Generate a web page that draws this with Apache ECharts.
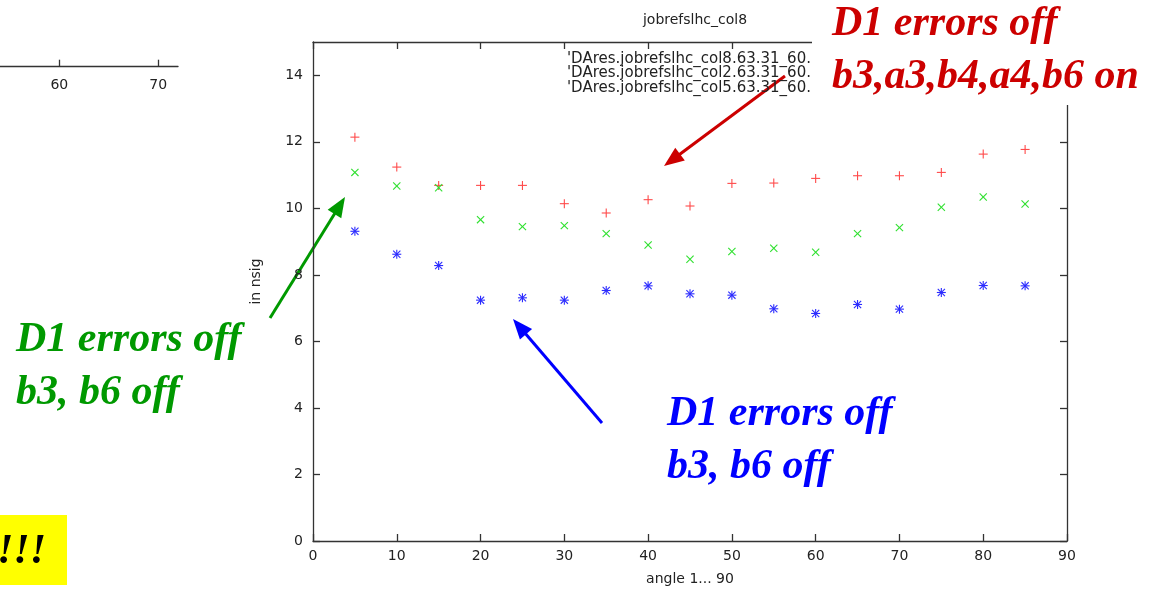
<!DOCTYPE html>
<html>
<head>
<meta charset="utf-8">
<title>jobrefslhc_col8</title>
<script src="https://cdn.jsdelivr.net/npm/echarts@6/dist/echarts.min.js"></script>
<style>
  html, body { margin: 0; padding: 0; background: #fff; }
  #chart { width: 1161px; height: 593px; }
</style>
</head>
<body>
<div id="chart"></div>
<script>
// Scan angles (degrees) and minimum dynamic aperture (sigma) per run
const angles = [5, 10, 15, 20, 25, 30, 35, 40, 45, 50, 55, 60, 65, 70, 75, 80, 85];
const col8 = [12.14, 11.24, 10.69, 10.69, 10.69, 10.14, 9.86, 10.26, 10.07, 10.75, 10.76, 10.90, 10.98, 10.98, 11.08, 11.63, 11.77];
const col2 = [11.08, 10.67, 10.62, 9.66, 9.45, 9.48, 9.24, 8.90, 8.47, 8.70, 8.80, 8.68, 9.24, 9.42, 10.03, 10.34, 10.13];
const col5 = [9.31, 8.62, 8.28, 7.24, 7.31, 7.24, 7.53, 7.67, 7.43, 7.39, 6.98, 6.84, 7.11, 6.97, 7.47, 7.68, 7.67];

const seriesNames = [
  "'DAres.jobrefslhc_col8.63.31_60.",
  "'DAres.jobrefslhc_col2.63.31_60.",
  "'DAres.jobrefslhc_col5.63.31_60."
];
const plotTitle = 'jobrefslhc_col8';
const xName = 'angle 1... 90';
const yName = 'in nsig';

// Partial axis of the neighbouring plot (top-left)
const sideTicks = [60, 70];

// Annotation texts
const redNote = ['D1 errors off', 'b3,a3,b4,a4,b6 on'];
const greenNote = ['D1 errors off', 'b3, b6 off'];
const blueNote = ['D1 errors off', 'b3, b6 off'];
const bangText = '!!!';

const AXIS = '#333';
const TXT = '#222';
const SANS = 'DejaVu Sans';
const SERIF = 'Liberation Serif';

// gnuplot-style point glyphs: +, x and * built from short strokes
function glyph(kind, r) {
  const d = r * 0.8;
  const plus = [[-r, 0, r, 0], [0, -r, 0, r]];
  const cross = [[-d, -d, d, d], [-d, d, d, -d]];
  if (kind === 'plus') return plus;
  if (kind === 'cross') return cross;
  return plus.concat(cross);
}

function pointSeries(name, values, kind, color) {
  return {
    type: 'custom',
    name: name,
    coordinateSystem: 'cartesian2d',
    xAxisIndex: 0,
    yAxisIndex: 0,
    clip: false,
    data: angles.map((a, i) => [a, values[i]]),
    renderItem: function (params, api) {
      const p = api.coord([api.value(0), api.value(1)]);
      const segs = glyph(kind, 4.5);
      return {
        type: 'group',
        children: segs.map(s => ({
          type: 'line',
          shape: { x1: p[0] + s[0], y1: p[1] + s[1], x2: p[0] + s[2], y2: p[1] + s[3] },
          style: { stroke: color, lineWidth: 1.1 }
        }))
      };
    }
  };
}

function arrow(x1, y1, x2, y2, color) {
  const dx = x2 - x1, dy = y2 - y1;
  const len = Math.sqrt(dx * dx + dy * dy);
  const ux = dx / len, uy = dy / len;
  const hl = 20, hw = 8;
  const bx = x2 - ux * hl, by = y2 - uy * hl;
  return {
    type: 'group',
    z: 60,
    children: [
      { type: 'line', shape: { x1: x1, y1: y1, x2: bx + ux * 2, y2: by + uy * 2 },
        style: { stroke: color, lineWidth: 3 } },
      { type: 'polygon', shape: { points: [[x2, y2], [bx - uy * hw, by + ux * hw], [bx + uy * hw, by - ux * hw]] },
        style: { fill: color } }
    ]
  };
}

function note(lines, x, y0, color) {
  return lines.map((t, i) => ({
    type: 'text',
    z: 60,
    x: x,
    y: y0 + i * 53,
    style: {
      text: t, fill: color, fontFamily: SERIF, fontSize: 42,
      fontWeight: 'bold', fontStyle: 'italic', align: 'left', verticalAlign: 'middle'
    }
  }));
}

const chart = echarts.init(document.getElementById('chart'), null, { renderer: 'canvas' });

const axisLineStyle = { color: AXIS, width: 1.3 };
const frameLine = { show: true, onZero: false, lineStyle: axisLineStyle };
const innerTick = { show: true, inside: true, length: 7, lineStyle: axisLineStyle };

chart.setOption({
  backgroundColor: '#fff',
  animation: false,
  title: {
    text: plotTitle,
    left: 690,
    top: 8,
    textAlign: 'center',
    textStyle: { fontFamily: SANS, fontSize: 14, fontWeight: 'normal', color: TXT }
  },
  grid: [
    { left: 313, right: 94, top: 42, bottom: 52 },
    { left: 0, width: 178, top: 0, height: 66.7 }
  ],
  xAxis: [
    {
      type: 'value', gridIndex: 0, position: 'bottom', min: 0, max: 90, interval: 10,
      name: xName, nameLocation: 'middle', nameGap: 31,
      nameTextStyle: { fontFamily: SANS, fontSize: 14, color: TXT },
      axisLine: frameLine,
      axisTick: innerTick,
      axisLabel: { margin: 8, fontFamily: SANS, fontSize: 14, color: TXT },
      splitLine: { show: false }
    },
    {
      type: 'value', gridIndex: 0, position: 'top', min: 0, max: 90, interval: 10,
      axisLine: frameLine,
      axisTick: innerTick,
      axisLabel: { show: false },
      splitLine: { show: false }
    },
    {
      type: 'value', gridIndex: 1, position: 'bottom', min: 54, max: 72,
      axisLine: frameLine,
      axisTick: Object.assign({ customValues: sideTicks }, innerTick),
      axisLabel: {
        customValues: sideTicks,
        margin: 12, fontFamily: SANS, fontSize: 14, color: TXT
      },
      splitLine: { show: false }
    }
  ],
  yAxis: [
    {
      type: 'value', gridIndex: 0, position: 'left', min: 0, max: 15, interval: 2,
      name: yName, nameLocation: 'middle', nameGap: 50, nameRotate: 90,
      nameTextStyle: { fontFamily: SANS, fontSize: 14, color: TXT, padding: [0, 0, 0, 20] },
      axisLine: frameLine,
      axisTick: innerTick,
      axisLabel: { margin: 10, fontFamily: SANS, fontSize: 14, color: TXT, showMaxLabel: false },
      splitLine: { show: false }
    },
    {
      type: 'value', gridIndex: 0, position: 'right', min: 0, max: 15, interval: 2,
      axisLine: frameLine,
      axisTick: innerTick,
      axisLabel: { show: false },
      splitLine: { show: false }
    },
    {
      type: 'value', gridIndex: 1, min: 0, max: 1, show: false
    }
  ],
  series: [
    pointSeries(seriesNames[0], col8, 'plus', '#ff4a4a'),
    pointSeries(seriesNames[1], col2, 'cross', '#2fe02f'),
    pointSeries(seriesNames[2], col5, 'star', '#2b2bff')
  ],
  graphic: [].concat(
    // key entries
    seriesNames.map((n, i) => ({
      type: 'text', z: 40, x: 567, y: 59 + i * 14.5,
      style: { text: n, fill: TXT, fontFamily: SANS, fontSize: 15, align: 'left', verticalAlign: 'middle' }
    })),
    // white panel behind the red note
    [{ type: 'rect', z: 50, shape: { x: 812, y: 0, width: 349, height: 105 }, style: { fill: '#fff' } }],
    note(redNote, 832, 24.5, '#cc0000'),
    note(greenNote, 16, 340.5, '#009900'),
    note(blueNote, 667, 414.5, '#0000ff'),
    [
      arrow(785, 76, 664, 166, '#cc0000'),
      arrow(270, 318, 345, 197, '#009900'),
      arrow(602, 423, 513, 319, '#0000ff'),
      { type: 'rect', z: 55, shape: { x: 0, y: 515, width: 67, height: 70 }, style: { fill: '#ffff00' } },
      {
        type: 'text', z: 60, x: 46, y: 552,
        style: {
          text: bangText, fill: '#000', fontFamily: SERIF, fontSize: 42,
          fontWeight: 'bold', fontStyle: 'italic', align: 'right', verticalAlign: 'middle'
        }
      }
    ]
  )
});
</script>
</body>
</html>
